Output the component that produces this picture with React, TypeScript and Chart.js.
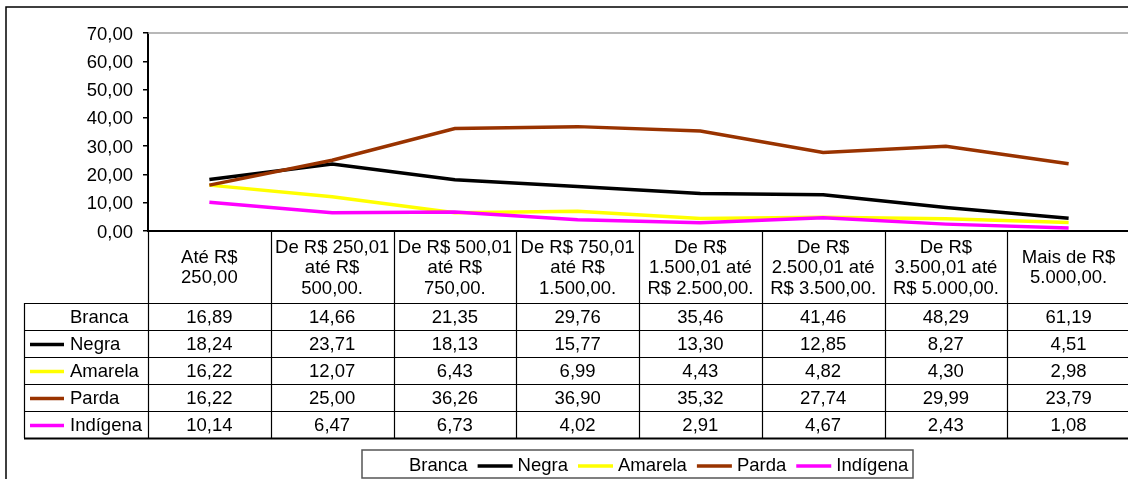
import React, { useEffect, useRef } from "react";
import { Chart, registerables } from "chart.js";

Chart.register(...registerables);

const categories: string[][] = [
  ["Até R$", "250,00"],
  ["De R$ 250,01", "até R$", "500,00."],
  ["De R$ 500,01", "até R$", "750,00."],
  ["De R$ 750,01", "até R$", "1.500,00."],
  ["De R$", "1.500,01 até", "R$ 2.500,00."],
  ["De R$", "2.500,01 até", "R$ 3.500,00."],
  ["De R$", "3.500,01 até", "R$ 5.000,00."],
  ["Mais de R$", "5.000,00."],
];

const seriesNames = ["Branca", "Negra", "Amarela", "Parda", "Indígena"];
const branca = [16.89, 14.66, 21.35, 29.76, 35.46, 41.46, 48.29, 61.19];
const negra = [18.24, 23.71, 18.13, 15.77, 13.3, 12.85, 8.27, 4.51];
const amarela = [16.22, 12.07, 6.43, 6.99, 4.43, 4.82, 4.3, 2.98];
const parda = [16.22, 25.0, 36.26, 36.9, 35.32, 27.74, 29.99, 23.79];
const indigena = [10.14, 6.47, 6.73, 4.02, 2.91, 4.67, 2.43, 1.08];
const seriesValues = [branca, negra, amarela, parda, indigena];
const seriesColors = ["#FFFFFF", "#000000", "#FFFF00", "#993300", "#FF00FF"];

const yMin = 0;
const yMax = 70;
const yStep = 10;

const FONT_FAMILY = '"Liberation Sans", Arial, sans-serif';
const FONT_SIZE = 18.5;

const fmt = (v: number) => v.toFixed(2).replace(".", ",");

const tablePlugin = {
  id: "tableAndFrame",
  afterDraw(chart: any) {
    const ctx = chart.ctx as CanvasRenderingContext2D;
    const area = chart.chartArea;
    const xScale = chart.scales.x;
    const n = categories.length;
    const centers = categories.map((_, i) => xScale.getPixelForValue(i));
    const bounds: number[] = [area.left];
    for (let i = 0; i < n - 1; i++) bounds.push((centers[i] + centers[i + 1]) / 2);
    bounds.push(area.right);

    ctx.save();
    // outer frame
    ctx.strokeStyle = "#000";
    ctx.lineWidth = 1.5;
    ctx.beginPath();
    ctx.moveTo(6, 480);
    ctx.lineTo(6, 7);
    ctx.lineTo(chart.width, 7);
    ctx.stroke();

    // plot area top border
    ctx.strokeStyle = "#a0a0a0";
    ctx.lineWidth = 1.5;
    ctx.beginPath();
    ctx.moveTo(area.left, area.top);
    ctx.lineTo(area.right, area.top);
    ctx.stroke();

    const headerTop = area.bottom;
    const headerBottom = 303;
    const rowH = 27;
    const tableLeft = 24;
    const tableBottom = headerBottom + rowH * seriesNames.length;

    // vertical lines
    ctx.strokeStyle = "#000";
    ctx.lineWidth = 1.2;
    ctx.beginPath();
    for (let i = 0; i < bounds.length; i++) {
      ctx.moveTo(Math.round(bounds[i]) + 0.5, headerTop);
      ctx.lineTo(Math.round(bounds[i]) + 0.5, tableBottom);
    }
    ctx.moveTo(tableLeft + 0.5, headerBottom);
    ctx.lineTo(tableLeft + 0.5, tableBottom);
    ctx.stroke();

    // horizontal lines
    ctx.beginPath();
    for (let r = 0; r <= seriesNames.length; r++) {
      const y = headerBottom + r * rowH;
      ctx.moveTo(tableLeft, y + 0.5);
      ctx.lineTo(chart.width, y + 0.5);
    }
    ctx.stroke();
    ctx.lineWidth = 2;
    ctx.beginPath();
    ctx.moveTo(tableLeft, tableBottom + 0.5);
    ctx.lineTo(chart.width, tableBottom + 0.5);
    ctx.stroke();

    // header text
    ctx.fillStyle = "#000";
    ctx.font = `${FONT_SIZE}px ${FONT_FAMILY}`;
    ctx.textAlign = "center";
    ctx.textBaseline = "middle";
    const lineH = 20.5;
    const headerMid = (headerTop + headerBottom) / 2 + 1;
    categories.forEach((lines, i) => {
      const start = headerMid - ((lines.length - 1) * lineH) / 2;
      lines.forEach((ln, k) => ctx.fillText(ln, centers[i], start + k * lineH));
    });

    // rows
    const datasets = chart.data.datasets;
    datasets.forEach((ds: any, r: number) => {
      const yMid = headerBottom + r * rowH + rowH / 2 + 1;
      ctx.strokeStyle = ds.borderColor;
      ctx.lineWidth = 3.5;
      ctx.beginPath();
      ctx.moveTo(30, yMid);
      ctx.lineTo(64, yMid);
      ctx.stroke();
      ctx.fillStyle = "#000";
      ctx.textAlign = "left";
      ctx.fillText(ds.label, 70, yMid);
      ctx.textAlign = "center";
      (ds.data as number[]).forEach((v, i) => ctx.fillText(fmt(v), centers[i], yMid));
    });

    // legend
    const boxL = 362;
    const boxR = 913;
    const boxT = 450;
    const boxB = 478;
    ctx.strokeStyle = "#555";
    ctx.lineWidth = 1.5;
    ctx.strokeRect(boxL, boxT, boxR - boxL, boxB - boxT);
    const legY = 466;
    let x = 369;
    datasets.forEach((ds: any) => {
      ctx.strokeStyle = ds.borderColor;
      ctx.lineWidth = 3.5;
      ctx.beginPath();
      ctx.moveTo(x, legY);
      ctx.lineTo(x + 35, legY);
      ctx.stroke();
      x += 40;
      ctx.fillStyle = "#000";
      ctx.textAlign = "left";
      ctx.fillText(ds.label, x, legY);
      x += ctx.measureText(ds.label).width + 10;
    });
    ctx.restore();
  },
};

export default function App() {
  const ref = useRef<HTMLCanvasElement>(null);
  useEffect(() => {
    if (!ref.current) return;
    const chart = new Chart(ref.current, {
      type: "line",
      data: {
        labels: categories.map((c) => c.join(" ")),
        datasets: seriesNames.map((name, i) => ({
          label: name,
          data: seriesValues[i],
          borderColor: seriesColors[i],
          backgroundColor: seriesColors[i],
          borderWidth: 3.5,
          pointRadius: 0,
          tension: 0,
          fill: false,
          order: seriesNames.length - i,
        })),
      },
      options: {
        responsive: false,
        animation: false,
        layout: { padding: { top: 33, right: 2, left: 0, bottom: 0 } },
        plugins: { legend: { display: false }, tooltip: { enabled: false }, title: { display: false } },
        scales: {
          x: {
            type: "category",
            offset: true,
            ticks: { display: false },
            grid: { display: false },
            border: { display: true, color: "#000", width: 2 },
            afterFit: (s: any) => {
              s.height = 479 - 231;
            },
          },
          y: {
            min: yMin,
            max: yMax,
            ticks: {
              stepSize: yStep,
              padding: 10,
              labelOffset: 1.5,
              color: "#000",
              font: { family: FONT_FAMILY, size: FONT_SIZE },
              callback: (v: any) => fmt(Number(v)),
            },
            grid: { drawOnChartArea: false, drawTicks: true, tickLength: 5, color: "#000", lineWidth: 1.5 },
            border: { display: true, color: "#000", width: 2 },
            afterFit: (s: any) => {
              s.width = 148;
            },
          },
        },
      },
      plugins: [tablePlugin],
    });
    return () => chart.destroy();
  }, []);
  return (
    <div style={{ position: "fixed", left: 0, top: 0, width: 1128, height: 479, overflow: "hidden", background: "#fff" }}>
      <canvas ref={ref} width={1132} height={479} style={{ display: "block" }} />
    </div>
  );
}
